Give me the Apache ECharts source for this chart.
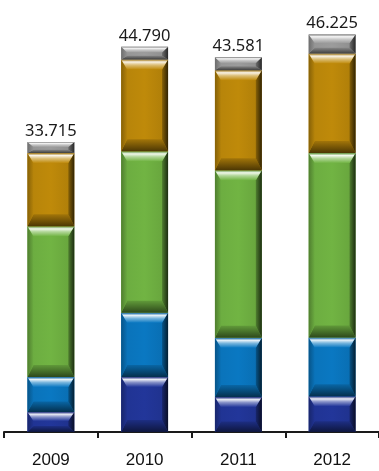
<!DOCTYPE html>
<html>
<head>
<meta charset="utf-8">
<script src="https://cdn.jsdelivr.net/npm/echarts@6/dist/echarts.min.js"></script>
<style>
  html, body { margin: 0; padding: 0; background: #fff; }
  #chart { width: 379px; height: 471px; }
</style>
</head>
<body>
<div id="chart"></div>
<script>
// Yearly totals split into five stacked components
const years = ['2009', '2010', '2011', '2012'];
const navy  = [2326, 6400, 4060, 4151];
const blue  = [4070, 7453, 6890, 6826];
const green = [17523, 18784, 19490, 21465];
const gold  = [8523, 10683, 11630, 11558];
const gray  = [1273, 1470, 1511, 2225];

const layers = [
  { name: 'navy',  values: navy,  color: '#22369a' },
  { name: 'blue',  values: blue,  color: '#0a78c2' },
  { name: 'green', values: green, color: '#71b443' },
  { name: 'gold',  values: gold,  color: '#bf8a0a' },
  { name: 'gray',  values: gray,  color: '#9c9c9c' }
];

function shade(hex, f, a) {
  const n = parseInt(hex.slice(1), 16);
  let r = (n >> 16) & 255, g = (n >> 8) & 255, b = n & 255;
  if (f < 0) { r *= 1 + f; g *= 1 + f; b *= 1 + f; }
  else { r += (255 - r) * f; g += (255 - g) * f; b += (255 - b) * f; }
  const alpha = a === undefined ? 1 : a;
  return 'rgba(' + Math.round(r) + ',' + Math.round(g) + ',' + Math.round(b) + ',' + alpha + ')';
}

function fmt(v) {
  return String(v).replace(/\B(?=(\d{3})+(?!\d))/g, '.');
}

// Cumulative stacking: each item is [category, base, top]
const bases = years.map(() => 0);
const series = layers.map(layer => {
  const data = layer.values.map((v, i) => {
    const item = [i, bases[i], bases[i] + v];
    bases[i] += v;
    return item;
  });
  const c = layer.color;
  return {
    type: 'custom',
    name: layer.name,
    data: data,
    encode: { x: 0, y: [1, 2] },
    renderItem: function (params, api) {
      const i = api.value(0);
      const lo = api.coord([i, api.value(1)]);
      const hi = api.coord([i, api.value(2)]);
      const w = api.size([1, 0])[0] * 0.5;
      const x0 = lo[0] - w / 2, x1 = lo[0] + w / 2;
      const y0 = hi[1], y1 = lo[1];
      const h = y1 - y0;
      const b = 6;
      const bt = Math.min(10, h * 0.45);
      const bb = Math.min(12, h * 0.3);
      const G = echarts.graphic.LinearGradient;
      return {
        type: 'group',
        children: [
          { type: 'rect', shape: { x: x0, y: y0, width: w, height: h },
            style: { fill: new G(0, 0, 1, 0, [
              { offset: 0, color: shade(c, -0.05) },
              { offset: 0.5, color: c },
              { offset: 1, color: shade(c, -0.1) }]) } },
          // bottom shading
          { type: 'polygon', shape: { points: [[x0, y1], [x1, y1], [x1 - b, y1 - bb], [x0 + b, y1 - bb]] },
            style: { fill: new G(0, 0, 0, 1, [
              { offset: 0, color: shade(c, -0.15) },
              { offset: 1, color: shade(c, -0.6) }]) } },
          // left bevel
          { type: 'polygon', shape: { points: [[x0, y0], [x0 + b, y0 + bt], [x0 + b, y1 - bb], [x0, y1]] },
            style: { fill: new G(0, 0, 1, 0, [
              { offset: 0, color: shade(c, -0.3) },
              { offset: 1, color: shade(c, -0.05) }]) } },
          // right bevel
          { type: 'polygon', shape: { points: [[x1, y0], [x1, y1], [x1 - b, y1 - bb], [x1 - b, y0 + bt]] },
            style: { fill: new G(0, 0, 1, 0, [
              { offset: 0, color: shade(c, -0.3) },
              { offset: 1, color: shade(c, -0.75) }]) } },
          // top bevel highlight
          { type: 'polygon', shape: { points: [[x0, y0], [x1, y0], [x1 - b, y0 + bt], [x0 + b, y0 + bt]] },
            style: { fill: new G(0, 0, 0, 1, [
              { offset: 0, color: shade(c, -0.2) },
              { offset: 0.25, color: shade(c, 0.9) },
              { offset: 0.55, color: shade(c, 0.45) },
              { offset: 1, color: c }]) } }
        ]
      };
    },
    z: 2
  };
});

// Total labels above each column
const totals = years.map((_, i) => layers.reduce((s, l) => s + l.values[i], 0));
series.push({
  type: 'custom',
  name: 'total',
  data: totals.map((t, i) => [i, t]),
  encode: { x: 0, y: 1 },
  renderItem: function (params, api) {
    const p = api.coord([api.value(0), api.value(1)]);
    return {
      type: 'text',
      x: p[0], y: p[1] - 11,
      style: {
        text: fmt(api.value(1)),
        fill: '#1a1a1a',
        font: '16.5px "Noto Sans"',
        textAlign: 'center',
        textVerticalAlign: 'middle'
      }
    };
  },
  z: 3
});

const chart = echarts.init(document.getElementById('chart'));
chart.setOption({
  animation: false,
  grid: { left: 4, right: -1, top: 2, bottom: 39 },
  xAxis: {
    type: 'category',
    data: years,
    boundaryGap: true,
    axisLine: { show: true, lineStyle: { color: '#1a1a1a', width: 2 } },
    axisTick: { show: true, interval: 0, length: 6, lineStyle: { color: '#1a1a1a', width: 2 } },
    axisLabel: { color: '#111', fontSize: 17, fontFamily: 'Liberation Sans', margin: 20 }
  },
  yAxis: { type: 'value', min: 0, max: 50000, show: false, splitLine: { show: false } },
  series: series
});
</script>
</body>
</html>
